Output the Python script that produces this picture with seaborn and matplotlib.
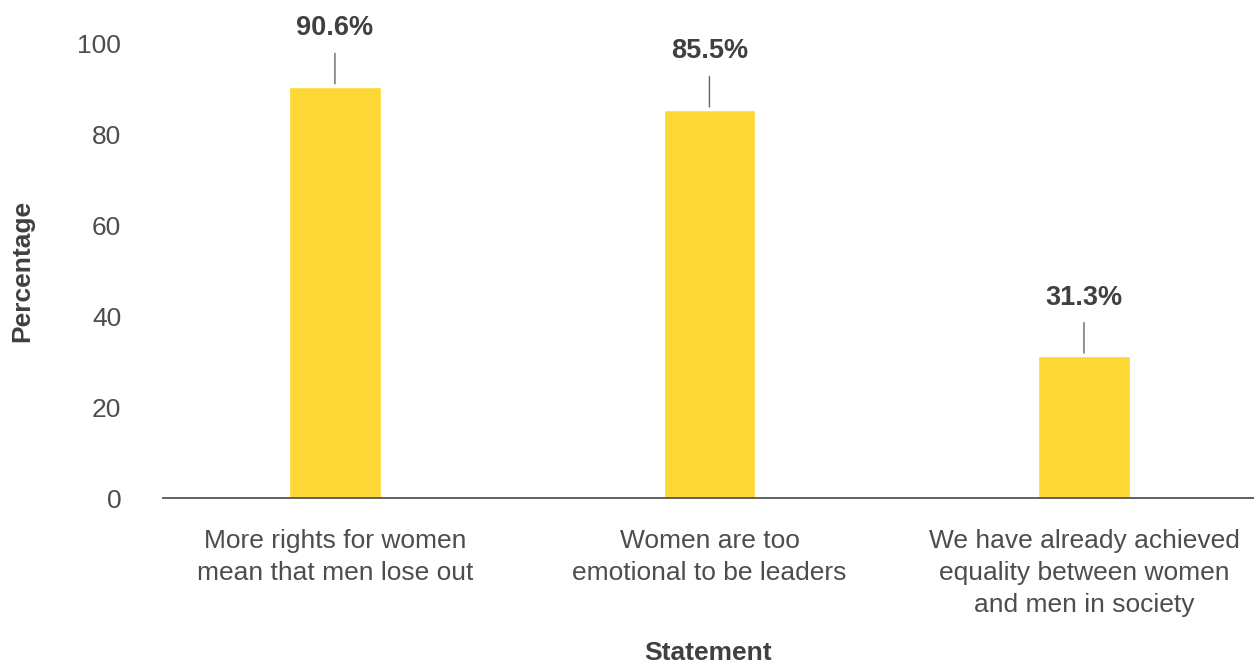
import matplotlib
matplotlib.use("Agg")
import matplotlib.pyplot as plt
import seaborn as sns
import pandas as pd

# データ
statements = [
    "More rights for women\nmean that men lose out",
    "Women are too\nemotional to be leaders",
    "We have already achieved\nequality between women\nand men in society",
]
percentages = [90.6, 85.5, 31.3]
value_labels = ["90.6%", "85.5%", "31.3%"]

df = pd.DataFrame({"Statement": statements, "Percentage": percentages})

sns.set_theme(style="white")
plt.rcParams["font.family"] = ["Liberation Sans", "DejaVu Sans"]

text_color = "#404040"
tick_color = "#4d4d4d"
bar_color = "#FDD835"

fig = plt.figure(figsize=(12.54, 6.65), dpi=100)
ax = fig.add_axes([0.130, 0.251, 0.870, 0.683])

sns.barplot(data=df, x="Statement", y="Percentage", color=bar_color,
            saturation=1, width=0.245, ax=ax)

ax.set_ylim(0, 100)
ax.set_xlim(-0.459, 2.454)
ax.set_yticks([0, 20, 40, 60, 80, 100])
ax.set_xticks(range(len(statements)))
ax.set_xticklabels(statements, linespacing=1.42)

for s in ["top", "right", "left"]:
    ax.spines[s].set_visible(False)
ax.spines["bottom"].set_color("#555555")
ax.spines["bottom"].set_linewidth(1.3)

ax.tick_params(axis="y", length=0, pad=30, labelsize=19, labelcolor=tick_color)
ax.tick_params(axis="x", length=0, pad=22, labelsize=19, labelcolor=tick_color)

ax.set_xlabel("Statement", fontsize=19, fontweight="bold", color=text_color, va="center")
ax.set_ylabel("Percentage", fontsize=19, fontweight="bold", color=text_color, va="center")
ax.xaxis.set_label_coords(0.5, -0.341)
ax.yaxis.set_label_coords(-0.129, 0.5)

# 値ラベルと引き出し線
for i, (v, lab) in enumerate(zip(percentages, value_labels)):
    ax.annotate("", xy=(i, v), xytext=(0, 26), textcoords="offset points",
                arrowprops=dict(arrowstyle="-", color="#666666", lw=1),
                annotation_clip=False)
    ax.annotate(lab, xy=(i, v), xytext=(0, 37), textcoords="offset points",
                ha="center", va="baseline", fontsize=19.5, fontweight="bold",
                color=text_color, annotation_clip=False)

fig.savefig("out.png", dpi=100)
